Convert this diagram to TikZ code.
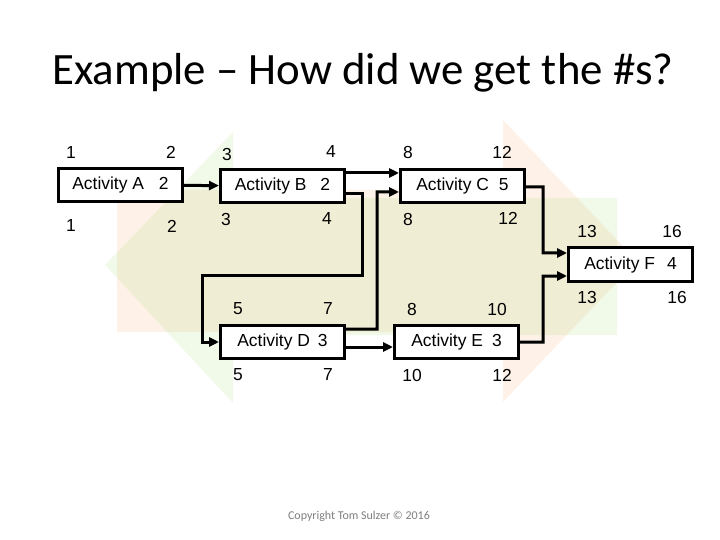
\documentclass[tikz,border=0pt]{standalone}
\usepackage{fontspec}
\setmainfont{Carlito}
\newfontfamily\arialfont{Liberation Sans}
\usetikzlibrary{arrows.meta, positioning}
\definecolor{shadeorange}{HTML}{F79646}
\definecolor{shadegreen}{HTML}{92D050}
\definecolor{note}{HTML}{7F7F7F}

\begin{document}
\begin{tikzpicture}[x=1bp, y=-1bp,
    act/.style={draw, line width=3bp, fill=white, minimum width=124bp,
                minimum height=33bp, inner sep=0pt,
                font=\arialfont\fontsize{17.5}{20}\selectfont},
    num/.style={inner sep=0pt, font=\arialfont\fontsize{17.5}{20}\selectfont},
    link/.style={line width=3bp, -{Triangle[length=10bp, width=9bp]}}]
  \fill[white] (0,0) rectangle (720,540);
  \useasboundingbox (0,0) rectangle (720,540);

  % faint arrows behind the network
  \fill[shadeorange, fill opacity=0.12] (117,190) -- (503,190) -- (503,120)
    -- (637,261) -- (503,402) -- (503,332) -- (117,332) -- cycle;
  \fill[shadegreen, fill opacity=0.12] (617,198) -- (233,198) -- (233,132)
    -- (105,265) -- (233,403) -- (233,335) -- (617,335) -- cycle;

  \node[anchor=base, font=\fontsize{45}{50}\selectfont] (title) at (363,85)
    {Example -- How did we get the \#s?};

  \node[act] (actA) at (120.5,185) {Activity A\hspace{15bp}2};
  \node[act] (actB) at (282.5,186) {Activity B\hspace{14bp}2};
  \node[act] (actC) at (462.5,186) {Activity C\hspace{10bp}5};
  \node[act] (actD) at (282.5,342) {Activity D\hspace{8bp}3};
  \node[act] (actE) at (456.5,342) {Activity E\hspace{9bp}3};
  \node[act] (actF) at (630.5,264.5) {Activity F\hspace{12bp}4};

  % early start / finish above, late start / finish below
  \foreach \nm/\px/\py/\val in {
      aes/71/153/1, aef/171/152/2, als/71/226/1, alf/172/226/2,
      bes/227/154/3, bef/331/152/4, bls/226/219/3, blf/327/219/4,
      ces/408/152/8, cef/502/152/12, cls/408/219/8, clf/508/218/12,
      fes/587/231/13, fef/672/231/16, fls/587/297/13, flf/677/297/16,
      des/238/309/5, def/328/309/7, dls/238/375/5, dlf/328/375/7,
      ees/412/309/8, eef/497/309/10, els/412/375/10, elf/502/375/12}
    \node[num] (\nm) at (\px,\py) {\val};

  \draw[link] (actA) -- (actB);
  \draw[link] ([yshift=13bp]actB.east) -- ([yshift=13bp]actC.west);
  \draw[link] ([yshift=-8bp]actB.east) -| (362,275) -| (202,342) -- (actD.west);
  \draw[link] ([yshift=13bp]actD.east) -| (377,192) -- ([yshift=-6bp]actC.west);
  \draw[link] ([yshift=-5bp]actD.east) -- ([yshift=-5bp]actE.west);
  \draw[link] ([yshift=-1bp]actC.east) -| (543,253) -- ([yshift=11.5bp]actF.west);
  \draw[link] (actE.east) -| (543,276) -- ([yshift=-11.5bp]actF.west);

  \node[font=\fontsize{12}{14}\selectfont, text=note] (copy) at (359,516)
    {Copyright Tom Sulzer \textcopyright{} 2016};
\end{tikzpicture}
\end{document}
